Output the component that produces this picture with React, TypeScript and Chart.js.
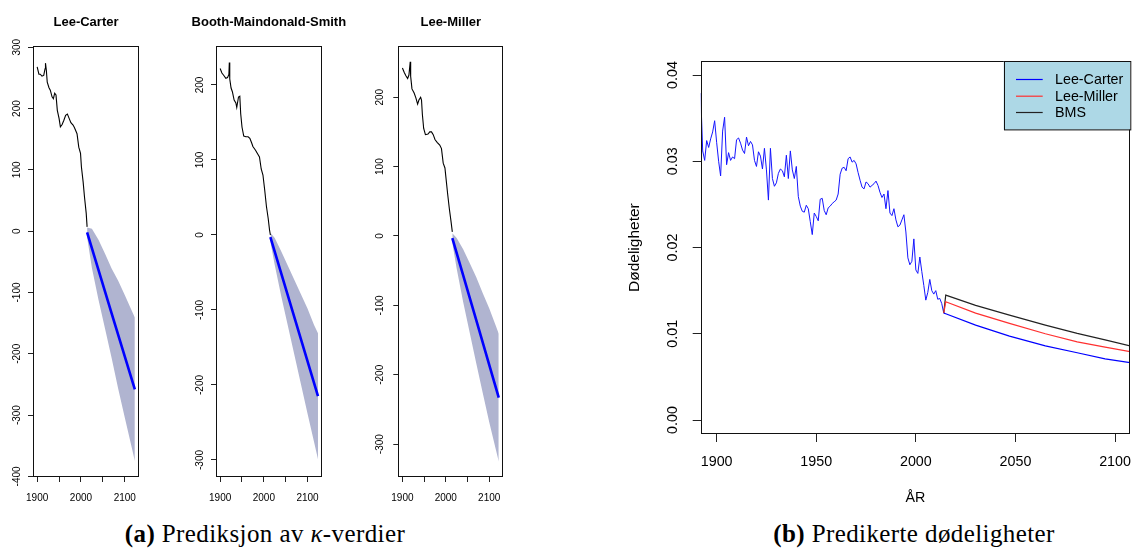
import React, { useEffect, useRef } from 'react';
import { Chart, registerables } from 'chart.js';

Chart.register(...registerables);

// ---------- Kappa panels (a) ----------
const kappaXTicks = [1900, 1950, 2000, 2050, 2100];
const kappaXTickLabels = ['1900', '', '2000', '', '2100'];

const lcYTicks = [300, 200, 100, 0, -100, -200, -300, -400];
const bmsYTicks = [200, 100, 0, -100, -200, -300];
const lmYTicks = [200, 100, 0, -100, -200, -300];

// Lee-Carter
const lcHistYears = [1900, 1904, 1907, 1911, 1915, 1918, 1919, 1921, 1923, 1927, 1930, 1934, 1937, 1940, 1943, 1946, 1950, 1953, 1957, 1961, 1965, 1969, 1973, 1977, 1982, 1985, 1991, 1995, 1999, 2001, 2005, 2008, 2012, 2014];
const lcHistKappa = [268, 256, 256, 253, 254, 265, 274, 262, 243, 234, 230, 219, 216, 225, 222, 197, 184, 170, 174, 181, 189, 191, 184, 177, 173, 169, 159, 137, 127, 105, 80, 56, 29, 7];
const lcFcYears = [2014, 2070, 2123];
const lcFcKappa = [-2, -134, -258];
const lcFanYears = [2014, 2025, 2040, 2055, 2070, 2085, 2100, 2115, 2123];
const lcFanUpper = [6, 4, -14, -37, -61, -81, -104, -128, -141];
const lcFanLower = [-10, -60, -112, -159, -207, -257, -304, -350, -375];

// Booth-Maindonald-Smith
const bmsHistYears = [1900, 1904, 1908, 1913, 1917, 1920, 1921, 1922, 1925, 1928, 1932, 1936, 1938, 1942, 1945, 1947, 1950, 1954, 1959, 1964, 1968, 1972, 1975, 1981, 1986, 1990, 1994, 1998, 2002, 2006, 2010, 2013, 2015];
const bmsHistKappa = [222, 216, 213, 209, 210, 214, 230, 208, 196, 191, 180, 176, 170, 184, 185, 162, 144, 132, 131, 131, 129, 123, 118, 113, 108, 104, 88, 80, 60, 38, 22, 7, 0];
const bmsFcYears = [2015, 2070, 2124];
const bmsFcKappa = [-3, -110, -215];
const bmsFanYears = [2015, 2025, 2040, 2055, 2070, 2085, 2100, 2115, 2124];
const bmsFanUpper = [3, -4, -22, -41, -60, -79, -98, -120, -131];
const bmsFanLower = [-9, -40, -82, -121, -160, -199, -238, -276, -299];

// Lee-Miller
const lmHistYears = [1900, 1904, 1908, 1912, 1915, 1918, 1919, 1922, 1927, 1931, 1935, 1938, 1942, 1944, 1946, 1949, 1953, 1959, 1963, 1967, 1971, 1975, 1980, 1986, 1990, 1994, 1998, 2000, 2004, 2008, 2012, 2015];
const lmHistKappa = [242, 236, 231, 227, 232, 251, 230, 212, 206, 199, 190, 196, 200, 196, 175, 155, 146, 147, 150, 150, 146, 139, 135, 131, 126, 105, 98, 86, 62, 40, 21, 6];
const lmFcYears = [2015, 2070, 2122];
const lmFcKappa = [-3, -121, -233];
const lmFanYears = [2015, 2025, 2040, 2055, 2070, 2085, 2100, 2115, 2122];
const lmFanUpper = [4, -3, -19, -39, -59, -82, -104, -129, -141];
const lmFanLower = [-10, -47, -95, -139, -183, -226, -268, -307, -325];

// ---------- Death rate panel (b) ----------
const rateXTicks = [1900, 1950, 2000, 2050, 2100];
const rateYTicks = [0, 0.01, 0.02, 0.03, 0.04];
const rateYTickLabels = ['0.00', '0.01', '0.02', '0.03', '0.04'];

const histYears = [1892, 1893, 1894, 1895, 1896, 1897, 1898, 1899, 1900, 1901, 1902, 1903, 1904, 1905, 1906, 1907, 1908, 1909, 1910, 1911, 1912, 1913, 1914, 1915, 1916, 1917, 1918, 1919, 1920, 1921, 1922, 1923, 1924, 1925, 1926, 1927, 1928, 1929, 1930, 1931, 1932, 1933, 1934, 1935, 1936, 1937, 1938, 1939, 1940, 1941, 1942, 1943, 1944, 1945, 1946, 1947, 1948, 1949, 1950, 1951, 1952, 1953, 1954, 1955, 1956, 1957, 1958, 1959, 1960, 1961, 1962, 1963, 1964, 1965, 1966, 1967, 1968, 1969, 1970, 1971, 1972, 1973, 1974, 1975, 1976, 1977, 1978, 1979, 1980, 1981, 1982, 1983, 1984, 1985, 1986, 1987, 1988, 1989, 1990, 1991, 1992, 1993, 1994, 1995, 1996, 1997, 1998, 1999, 2000, 2001, 2002, 2003, 2004, 2005, 2006, 2007, 2008, 2009, 2010, 2011, 2012, 2013, 2014];
const histRates = [0.0379, 0.0312, 0.0301, 0.0324, 0.0316, 0.0326, 0.0334, 0.0347, 0.0322, 0.0300, 0.0283, 0.0335, 0.0351, 0.0296, 0.0310, 0.0301, 0.0305, 0.0303, 0.0325, 0.0327, 0.0321, 0.0313, 0.0309, 0.0328, 0.0318, 0.0323, 0.0319, 0.0301, 0.0294, 0.0311, 0.0306, 0.0291, 0.0315, 0.0290, 0.0255, 0.0315, 0.0280, 0.0271, 0.0275, 0.0286, 0.0291, 0.0289, 0.0282, 0.0307, 0.0280, 0.0312, 0.0290, 0.0280, 0.0294, 0.0259, 0.0248, 0.0242, 0.0241, 0.0249, 0.0245, 0.0230, 0.0215, 0.0240, 0.0236, 0.0231, 0.0256, 0.0257, 0.0243, 0.0238, 0.0246, 0.0248, 0.0251, 0.0253, 0.0255, 0.0262, 0.0285, 0.0292, 0.0293, 0.0289, 0.0303, 0.0305, 0.0299, 0.0301, 0.0297, 0.0287, 0.0278, 0.0270, 0.0268, 0.0276, 0.0274, 0.0270, 0.0272, 0.0274, 0.0277, 0.0272, 0.0264, 0.0258, 0.0262, 0.0245, 0.0266, 0.0240, 0.0237, 0.0245, 0.0232, 0.0224, 0.0226, 0.0232, 0.0238, 0.0218, 0.0188, 0.0180, 0.0184, 0.0210, 0.0174, 0.0170, 0.0189, 0.0172, 0.0156, 0.0139, 0.0148, 0.0163, 0.0150, 0.0146, 0.0150, 0.0140, 0.0141, 0.0135, 0.0124];

const fcYears = [2014, 2015, 2030, 2047, 2065, 2081, 2095, 2108];
const fcLeeCarter = [0.0124, 0.01232, 0.0110, 0.00973, 0.0086, 0.0078, 0.0071, 0.00664];
const fcLeeMiller = [0.0124, 0.01371, 0.0124, 0.0112, 0.0100, 0.00907, 0.00845, 0.00792];
const fcBMS = [0.0124, 0.01448, 0.0133, 0.01217, 0.0110, 0.01004, 0.0093, 0.00857];

const legendLabels = ['Lee-Carter', 'Lee-Miller', 'BMS'];
const legendColors = ['#0000FF', '#FF3030', '#222222'];

// ---------- styling ----------
const FONT = '"Liberation Sans", Arial, sans-serif';
const BAND = '#B0B4D0';

const pts = (xs: number[], ys: number[]) => xs.map((x, i) => ({ x, y: ys[i] }));

const zeroPad = (s: any) => {
  s.paddingLeft = 0;
  s.paddingRight = 0;
  s.paddingTop = 0;
  s.paddingBottom = 0;
};

const boxPlugin = {
  id: 'rbox',
  afterDatasetsDraw(chart: any) {
    const { ctx, chartArea: a } = chart;
    ctx.save();
    ctx.strokeStyle = '#111';
    ctx.lineWidth = 1;
    const l = Math.round(a.left) + 0.5;
    const t = Math.round(a.top) + 0.5;
    const r = Math.round(a.right) - 0.5;
    const b = Math.round(a.bottom) - 0.5;
    ctx.strokeRect(l, t, r - l, b - t);
    ctx.restore();
  },
};

type KappaProps = {
  title: string;
  histYears: number[];
  histVals: number[];
  fcYears: number[];
  fcVals: number[];
  fanYears: number[];
  fanUpper: number[];
  fanLower: number[];
  yTicks: number[];
  yMin: number;
  yMax: number;
  left: number;
  width: number;
  yAxisWidth: number;
  padRight: number;
  yLabelPad: number;
};

function KappaPanel(p: KappaProps) {
  const ref = useRef<HTMLCanvasElement>(null);
  useEffect(() => {
    const canvas = ref.current as HTMLCanvasElement;
    const titlePlugin = {
      id: 'rtitle',
      afterDraw(chart: any) {
        const { ctx, chartArea: a } = chart;
        ctx.save();
        ctx.font = `bold 13px ${FONT}`;
        ctx.fillStyle = '#000';
        ctx.textAlign = 'center';
        ctx.textBaseline = 'middle';
        ctx.fillText(p.title, (a.left + a.right) / 2, 22.5);
        ctx.restore();
      },
    };
    const chart = new Chart(canvas, {
      type: 'line',
      data: {
        datasets: [
          {
            label: 'upper',
            data: pts(p.fanYears, p.fanUpper),
            borderWidth: 0,
            borderColor: 'rgba(0,0,0,0)',
            backgroundColor: BAND,
            pointRadius: 0,
            fill: '+1',
            tension: 0,
            order: 3,
          },
          {
            label: 'lower',
            data: pts(p.fanYears, p.fanLower),
            borderWidth: 0,
            borderColor: 'rgba(0,0,0,0)',
            pointRadius: 0,
            fill: false,
            tension: 0,
            order: 4,
          },
          {
            label: 'hist',
            data: pts(p.histYears, p.histVals),
            borderColor: '#000',
            borderWidth: 1.1,
            pointRadius: 0,
            fill: false,
            tension: 0,
            order: 1,
          },
          {
            label: 'forecast',
            data: pts(p.fcYears, p.fcVals),
            borderColor: '#0000FF',
            borderWidth: 2.6,
            pointRadius: 0,
            fill: false,
            tension: 0,
            order: 0,
          },
        ],
      } as any,
      options: {
        responsive: false,
        animation: false,
        events: [],
        layout: { padding: { left: 0, right: p.padRight, top: 46, bottom: 13 } },
        plugins: {
          legend: { display: false },
          tooltip: { enabled: false },
          title: { display: false },
        },
        scales: {
          x: {
            type: 'linear',
            min: 1890.5,
            max: 2132.5,
            afterBuildTicks: (s: any) => {
              s.ticks = kappaXTicks.map((v) => ({ value: v }));
            },
            afterFit: (s: any) => {
              s.height = 30;
              zeroPad(s);
            },
            ticks: {
              autoSkip: false,
              maxRotation: 0,
              minRotation: 0,
              padding: 10,
              color: '#000',
              font: { family: FONT, size: 10 },
              callback: (v: any) => kappaXTickLabels[kappaXTicks.indexOf(Number(v))] ?? '',
            },
            grid: { display: true, drawOnChartArea: false, drawTicks: true, tickLength: 5, color: '#222' },
            border: { display: false },
          },
          y: {
            type: 'linear',
            min: p.yMin,
            max: p.yMax,
            afterBuildTicks: (s: any) => {
              s.ticks = p.yTicks.map((v) => ({ value: v }));
            },
            afterFit: (s: any) => {
              s.width = p.yAxisWidth;
              zeroPad(s);
            },
            ticks: {
              autoSkip: false,
              minRotation: 90,
              maxRotation: 90,
              crossAlign: 'center',
              padding: p.yLabelPad,
              color: '#000',
              font: { family: FONT, size: 10 },
              callback: (v: any) => String(v),
            },
            grid: { display: true, drawOnChartArea: false, drawTicks: true, tickLength: 5, color: '#222' },
            border: { display: false },
          },
        },
      } as any,
      plugins: [boxPlugin, titlePlugin],
    });
    return () => chart.destroy();
  }, []);
  return (
    <canvas
      ref={ref}
      width={p.width}
      height={520}
      style={{ position: 'absolute', left: p.left, top: 0, width: p.width, height: 520 }}
    />
  );
}

const legendPlugin = {
  id: 'rlegend',
  afterDatasetsDraw(chart: any) {
    const { ctx, chartArea: a } = chart;
    const w = 126.3;
    const h = 68.4;
    const x0 = a.right - w;
    const y0 = a.top;
    ctx.save();
    ctx.fillStyle = '#ADD8E6';
    ctx.fillRect(x0, y0, w, h);
    ctx.strokeStyle = '#111';
    ctx.lineWidth = 1;
    ctx.strokeRect(Math.round(x0) + 0.5, Math.round(y0) + 0.5, w, h);
    const rows = [18.2, 34.9, 51.2];
    ctx.font = `14.3px ${FONT}`;
    ctx.textBaseline = 'middle';
    ctx.textAlign = 'left';
    legendLabels.forEach((lab, i) => {
      const y = y0 + rows[i];
      ctx.strokeStyle = legendColors[i];
      ctx.lineWidth = 1.2;
      ctx.beginPath();
      ctx.moveTo(a.right - 114, y);
      ctx.lineTo(a.right - 87.3, y);
      ctx.stroke();
      ctx.fillStyle = '#000';
      ctx.fillText(lab, a.right - 75, y + 0.5);
    });
    ctx.restore();
  },
};

function RatePanel() {
  const ref = useRef<HTMLCanvasElement>(null);
  useEffect(() => {
    const canvas = ref.current as HTMLCanvasElement;
    const chart = new Chart(canvas, {
      type: 'line',
      data: {
        datasets: [
          {
            label: 'observed',
            data: pts(histYears, histRates),
            borderColor: '#1515FF',
            borderWidth: 1,
            pointRadius: 0,
            fill: false,
            tension: 0,
            order: 3,
          },
          {
            label: legendLabels[2],
            data: pts(fcYears, fcBMS),
            borderColor: legendColors[2],
            borderWidth: 1.2,
            pointRadius: 0,
            fill: false,
            tension: 0,
            order: 2,
          },
          {
            label: legendLabels[1],
            data: pts(fcYears, fcLeeMiller),
            borderColor: legendColors[1],
            borderWidth: 1.2,
            pointRadius: 0,
            fill: false,
            tension: 0,
            order: 1,
          },
          {
            label: legendLabels[0],
            data: pts(fcYears, fcLeeCarter),
            borderColor: legendColors[0],
            borderWidth: 1.2,
            pointRadius: 0,
            fill: false,
            tension: 0,
            order: 0,
          },
        ],
      } as any,
      options: {
        responsive: false,
        animation: false,
        events: [],
        layout: { padding: { left: 0, right: 3, top: 61.3, bottom: 0 } },
        plugins: {
          legend: { display: false },
          tooltip: { enabled: false },
          title: { display: false },
        },
        scales: {
          x: {
            type: 'linear',
            min: 1892,
            max: 2107.5,
            afterBuildTicks: (s: any) => {
              s.ticks = rateXTicks.map((v) => ({ value: v }));
            },
            afterFit: (s: any) => {
              s.height = 76;
              zeroPad(s);
            },
            ticks: {
              autoSkip: false,
              maxRotation: 0,
              minRotation: 0,
              padding: 11.4,
              color: '#000',
              font: { family: FONT, size: 14.3 },
              callback: (v: any) => String(v),
            },
            title: {
              display: true,
              text: 'ÅR',
              color: '#000',
              font: { family: FONT, size: 14.3 },
              padding: { top: 0, bottom: 3.4 },
            },
            grid: { display: true, drawOnChartArea: false, drawTicks: true, tickLength: 8, color: '#222' },
            border: { display: false },
          },
          y: {
            type: 'linear',
            min: -0.00162,
            max: 0.04159,
            afterBuildTicks: (s: any) => {
              s.ticks = rateYTicks.map((v) => ({ value: v }));
            },
            afterFit: (s: any) => {
              s.width = 100.7;
              zeroPad(s);
            },
            ticks: {
              autoSkip: false,
              minRotation: 90,
              maxRotation: 90,
              crossAlign: 'center',
              padding: 5.8,
              color: '#000',
              font: { family: FONT, size: 14.3 },
              callback: (v: any) => rateYTickLabels[rateYTicks.indexOf(Number(v))] ?? '',
            },
            title: {
              display: true,
              text: 'Dødeligheter',
              color: '#000',
              font: { family: FONT, size: 15.5 },
              padding: { top: 25.7, bottom: 0 },
            },
            grid: { display: true, drawOnChartArea: false, drawTicks: true, tickLength: 8, color: '#222' },
            border: { display: false },
          },
        },
      } as any,
      plugins: [boxPlugin, legendPlugin],
    });
    return () => chart.destroy();
  }, []);
  return (
    <canvas
      ref={ref}
      width={533}
      height={510}
      style={{ position: 'absolute', left: 600, top: 0, width: 533, height: 510 }}
    />
  );
}

export default function App() {
  const capStyle: React.CSSProperties = {
    position: 'absolute',
    top: 520,
    textAlign: 'center',
    fontFamily: '"Liberation Serif", "DejaVu Serif", serif',
    fontSize: 25,
    letterSpacing: '0.4px',
    lineHeight: '28px',
    color: '#000',
    whiteSpace: 'nowrap',
  };
  return (
    <div
      style={{
        position: 'fixed',
        left: 0,
        top: 0,
        width: 1133,
        height: 548,
        overflow: 'hidden',
        background: '#fff',
      }}
    >
      <KappaPanel
        title="Lee-Carter"
        histYears={lcHistYears}
        histVals={lcHistKappa}
        fcYears={lcFcYears}
        fcVals={lcFcKappa}
        fanYears={lcFanYears}
        fanUpper={lcFanUpper}
        fanLower={lcFanLower}
        yTicks={lcYTicks}
        yMin={-401}
        yMax={302}
        left={0}
        width={175}
        yAxisWidth={33}
        padRight={36}
        yLabelPad={1}
      />
      <KappaPanel
        title="Booth-Maindonald-Smith"
        histYears={bmsHistYears}
        histVals={bmsHistKappa}
        fcYears={bmsFcYears}
        fcVals={bmsFcKappa}
        fanYears={bmsFanYears}
        fanUpper={bmsFanUpper}
        fanLower={bmsFanLower}
        yTicks={bmsYTicks}
        yMin={-322.7}
        yMax={252}
        left={180}
        width={180}
        yAxisWidth={36}
        padRight={38.3}
        yLabelPad={1}
      />
      <KappaPanel
        title="Lee-Miller"
        histYears={lmHistYears}
        histVals={lmHistKappa}
        fcYears={lmFcYears}
        fcVals={lmFcKappa}
        fanYears={lmFanYears}
        fanUpper={lmFanUpper}
        fanLower={lmFanLower}
        yTicks={lmYTicks}
        yMin={-347.3}
        yMax={273.8}
        left={362}
        width={175}
        yAxisWidth={36.3}
        padRight={33.7}
        yLabelPad={3}
      />
      <RatePanel />
      <div style={{ ...capStyle, left: 0, width: 530 }}>
        <b>(a)</b> Prediksjon av <i>κ</i>-verdier
      </div>
      <div style={{ ...capStyle, left: 694, width: 440 }}>
        <b>(b)</b> Predikerte dødeligheter
      </div>
    </div>
  );
}
